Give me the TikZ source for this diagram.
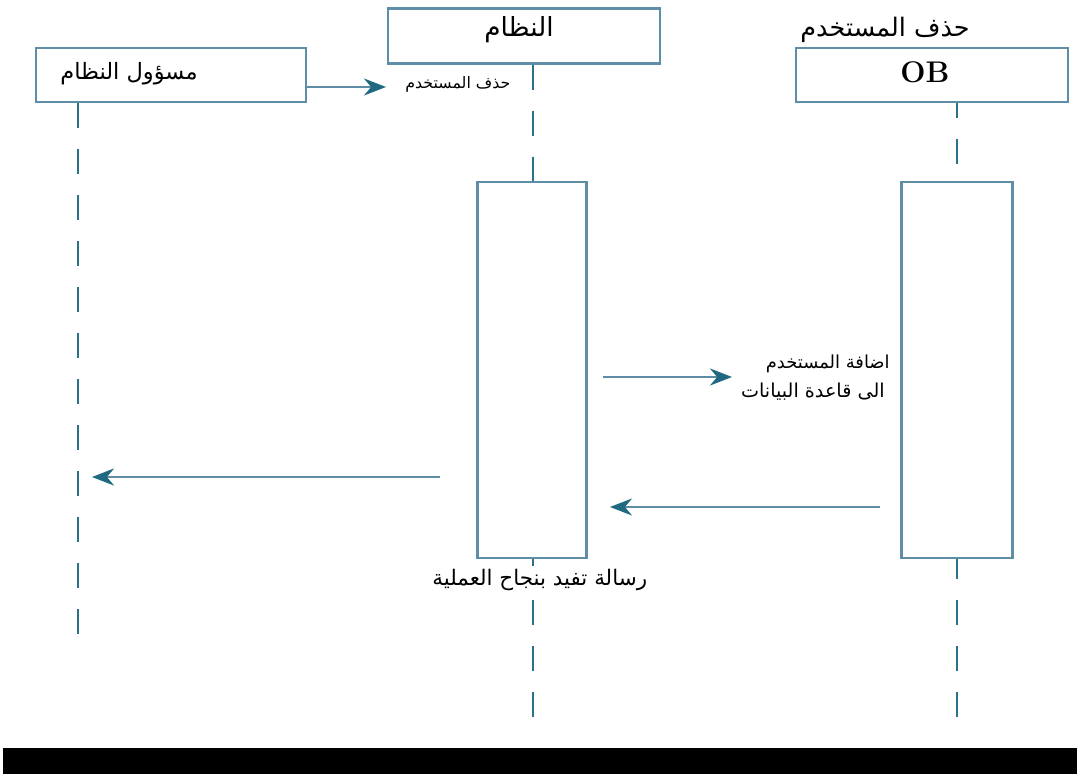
\documentclass[tikz,border=0pt]{standalone}
\usepackage{fontspec}
\usepackage{xcolor}
\TeXXeTstate=1
\newfontfamily\arabicfont[Script=Arabic]{DejaVu Sans}
\usetikzlibrary{arrows.meta}
\definecolor{boxline}{HTML}{5E8FA6}
\definecolor{lifeteal}{HTML}{2B7189}
\definecolor{msgline}{HTML}{5F8EA4}
\definecolor{headteal}{HTML}{1F6A80}
\tikzstyle{actor}+=[draw=boxline,line width=1.3pt,inner sep=0pt]
\tikzstyle{activation}+=[draw=boxline,line width=1.6pt,inner sep=0pt]
\tikzstyle{lifeline}+=[draw=lifeteal,line width=1.2pt,dash pattern=on 0.5cm off 0.42cm]
\tikzstyle{msg}+=[draw=msgline,line width=1.4pt,-{Stealth[length=0.44cm,width=0.34cm,fill=headteal,color=headteal]}]
\tikzstyle{boxtext}+=[font=\arabicfont\fontsize{12.8}{14}\selectfont,inner sep=0pt]
\tikzstyle{msglabel}+=[font=\arabicfont\fontsize{9}{11}\selectfont,inner sep=0pt]

\begin{document}
\begin{tikzpicture}[x=0.02cm,y=-0.02cm]
    \fill[white] (0,0) rectangle (1077,774);
    \useasboundingbox (0,0) rectangle (1077,774);
    % actors
    \node[actor,minimum width=5.4cm,minimum height=1.08cm] (admin) at (171,75) {};
    \node[actor,minimum width=5.44cm,minimum height=1.1cm] (system) at (524,36) {};
    \node[actor,minimum width=5.44cm,minimum height=1.08cm] (db) at (932,75) {};
    \node[boxtext,anchor=west] (admintxt) at (60,74) {\beginR مسؤول النظام\endR};
    \node[boxtext,anchor=west,font=\arabicfont\fontsize{15}{17}\selectfont] (systemtxt) at (484,30) {\beginR النظام\endR};
    \node[font=\bfseries\fontsize{17}{19}\selectfont,inner sep=0pt] (dbtxt) at (925,72) {OB};
    \node[boxtext,anchor=east,font=\arabicfont\fontsize{14.5}{17}\selectfont] (dbtitle) at (970,30) {\beginR حذف المستخدم\endR};
    % activation boxes
    \node[activation,minimum width=2.18cm,minimum height=7.52cm] (sysact) at (532,370) {};
    \node[activation,minimum width=2.22cm,minimum height=7.52cm] (dbact) at (957,370) {};
    % lifelines
    \coordinate (adminend) at (78,640);
    \coordinate (sysend) at (533,720);
    \coordinate (dbend) at (957,720);
    \draw[lifeline] (admin.south -| adminend) -- (adminend);
    \draw[lifeline] (system.south -| sysend) -- (sysact.north -| sysend);
    \draw[lifeline,dash phase=0.1cm] (sysact.south -| sysend) -- (sysend);
    \draw[lifeline,dash phase=0.2cm] (db.south -| dbend) -- (dbact.north -| dbend);
    \draw[lifeline,dash phase=0.1cm] (dbact.south -| dbend) -- (dbend);
    % messages
    \coordinate (m1end) at (386,87);
    \coordinate (m2start) at (603,377);
    \coordinate (m2end) at (732,377);
    \coordinate (m3start) at (440,477);
    \coordinate (m3end) at (92,477);
    \coordinate (m4start) at (880,507);
    \coordinate (m4end) at (610,507);
    \draw[msg] (admin.east |- m1end) -- (m1end);
    \draw[msg] (m2start) -- (m2end);
    \draw[msg] (m3start) -- (m3end);
    \draw[msg] (m4start) -- (m4end);
    \node[msglabel,anchor=west] (m1txt) at (405,84) {\beginR حذف المستخدم\endR};
    \node[msglabel,anchor=east,font=\arabicfont\fontsize{10.2}{12}\selectfont] (m2txt) at (890,364) {\beginR اضافة المستخدم\endR};
    \node[msglabel,anchor=east,font=\arabicfont\fontsize{10.9}{12}\selectfont] (m2txtb) at (885,392) {\beginR الى قاعدة البيانات\endR};
    \node[msglabel,anchor=west,fill=white,inner ysep=2pt,font=\arabicfont\fontsize{12.2}{14}\selectfont] (m4txt) at (432,580) {\beginR رسالة تفيد بنجاح العملية\endR};
    % bottom bar
    \fill[black] (3,748) rectangle (1077,774);
\end{tikzpicture}
\end{document}
